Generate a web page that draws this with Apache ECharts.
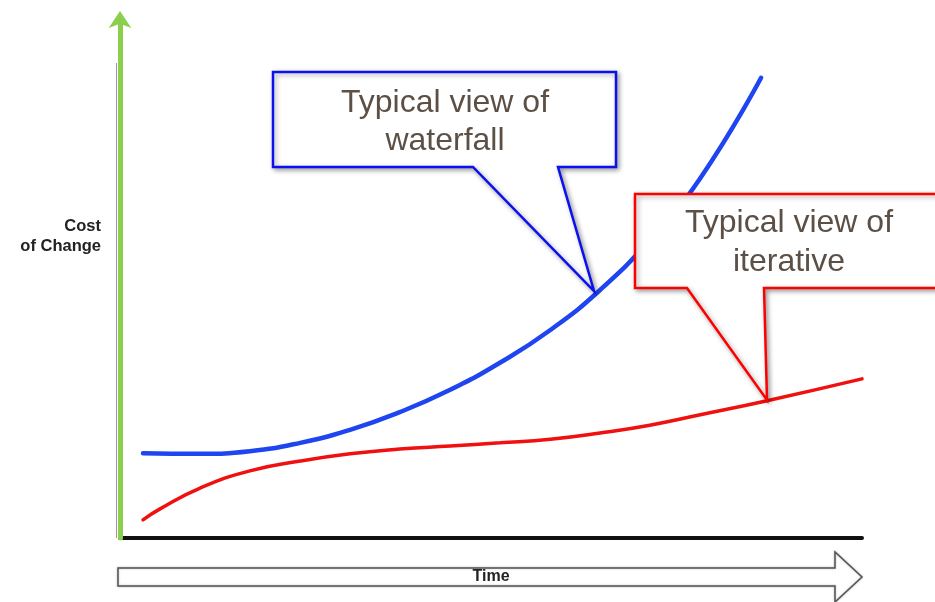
<!DOCTYPE html>
<html>
<head>
<meta charset="utf-8">
<script src="https://cdn.jsdelivr.net/npm/echarts@6/dist/echarts.min.js"></script>
<style>
html,body{margin:0;padding:0;background:#fff;}
#main{width:935px;height:602px;}
</style>
</head>
<body>
<div id="main"></div>
<script>
// Time (0-100) vs. cost of change (0-100)
var waterfallTime = [3.1, 10.8, 17.5, 24.3, 31.0, 37.7, 44.5, 51.2, 58.0, 64.7, 71.4, 78.2, 86.4];
var waterfallCost = [16.3, 16.2, 16.7, 18.3, 20.8, 24.2, 28.5, 33.7, 40.0, 47.7, 57.3, 69.2, 88.5];
var iterativeTime = [3.1, 5.4, 10.8, 17.5, 24.3, 31.0, 37.7, 44.5, 51.2, 58.0, 64.7, 71.4, 78.2, 87.2, 100];
var iterativeCost = [3.5, 5.6, 9.6, 12.9, 14.8, 16.2, 17.1, 17.7, 18.3, 19.0, 20.2, 21.7, 23.7, 26.4, 30.6];
var xAxisName = 'Time';
var yAxisName = 'Cost\nof Change';
var waterfallLabel = 'Typical view of\nwaterfall';
var iterativeLabel = 'Typical view of\niterative';

function pairs(xs, ys) { return xs.map(function (x, i) { return [x, ys[i]]; }); }

var chart = echarts.init(document.getElementById('main'));
var textColor = '#5c5046';
var shadow = { shadowBlur: 5, shadowColor: 'rgba(0,0,0,0.35)', shadowOffsetX: 2, shadowOffsetY: 2 };

chart.setOption({
  backgroundColor: '#fff',
  animation: false,
  grid: { left: 120, right: 73, top: 18, bottom: 64 },
  xAxis: {
    type: 'value', min: 0, max: 100,
    axisLine: { show: true, lineStyle: { color: '#111', width: 4 } },
    axisTick: { show: false }, axisLabel: { show: false }, splitLine: { show: false }
  },
  yAxis: {
    type: 'value', min: 0, max: 100,
    axisLine: { show: true, symbol: ['none', 'arrow'], symbolSize: [17, 17], symbolOffset: [0, 7],
      lineStyle: { color: '#8ccf4d', width: 5 } },
    axisTick: { show: false }, axisLabel: { show: false }, splitLine: { show: false }, z: 5
  },
  series: [
    { name: 'waterfall', type: 'line', smooth: 0.5, symbol: 'none',
      data: pairs(waterfallTime, waterfallCost),
      lineStyle: { color: '#1f45f0', width: 4.5, cap: 'round' } },
    { name: 'iterative', type: 'line', smooth: 0.5, symbol: 'none',
      data: pairs(iterativeTime, iterativeCost),
      lineStyle: { color: '#f01010', width: 3.5, cap: 'round' } }
  ],
  graphic: [
    { type: 'line', z: 1, shape: { x1: 116.5, y1: 63, x2: 116.5, y2: 538 }, style: { stroke: '#999', lineWidth: 1 } },
    { type: 'text', z: 100, style: { text: yAxisName, x: 101, y: 236, align: 'right', verticalAlign: 'middle',
      font: 'bold 16.5px "Liberation Sans"', fill: '#222', lineHeight: 20 } },
    { type: 'polygon', z: 50,
      shape: { points: [[118, 568], [835, 568], [835, 552], [862, 577], [835, 602], [835, 586], [118, 586]] },
      style: { fill: '#fff', stroke: '#555', lineWidth: 1.5, shadowBlur: 2, shadowColor: 'rgba(0,0,0,0.3)' } },
    { type: 'text', z: 60, style: { text: xAxisName, x: 491, y: 577, align: 'center', verticalAlign: 'middle',
      font: 'bold 16px "Liberation Sans"', fill: '#222' } },
    { type: 'polygon', z: 100,
      shape: { points: [[273, 72], [616, 72], [616, 167], [558, 167], [594, 291], [473, 167], [273, 167]] },
      style: Object.assign({ fill: '#fff', stroke: '#0a10ee', lineWidth: 2.5 }, shadow) },
    { type: 'text', z: 101, style: { text: waterfallLabel, x: 445, y: 122, align: 'center', verticalAlign: 'middle',
      font: '32px "Liberation Sans"', fill: textColor, lineHeight: 38 } },
    { type: 'polygon', z: 100,
      shape: { points: [[635, 194], [945, 194], [945, 288], [764, 288], [767, 400], [687, 288], [635, 288]] },
      style: Object.assign({ fill: '#fff', stroke: '#ff0000', lineWidth: 2.5 }, shadow) },
    { type: 'text', z: 101, style: { text: iterativeLabel, x: 789, y: 243, align: 'center', verticalAlign: 'middle',
      font: '32px "Liberation Sans"', fill: textColor, lineHeight: 39 } }
  ]
});
</script>
</body>
</html>
